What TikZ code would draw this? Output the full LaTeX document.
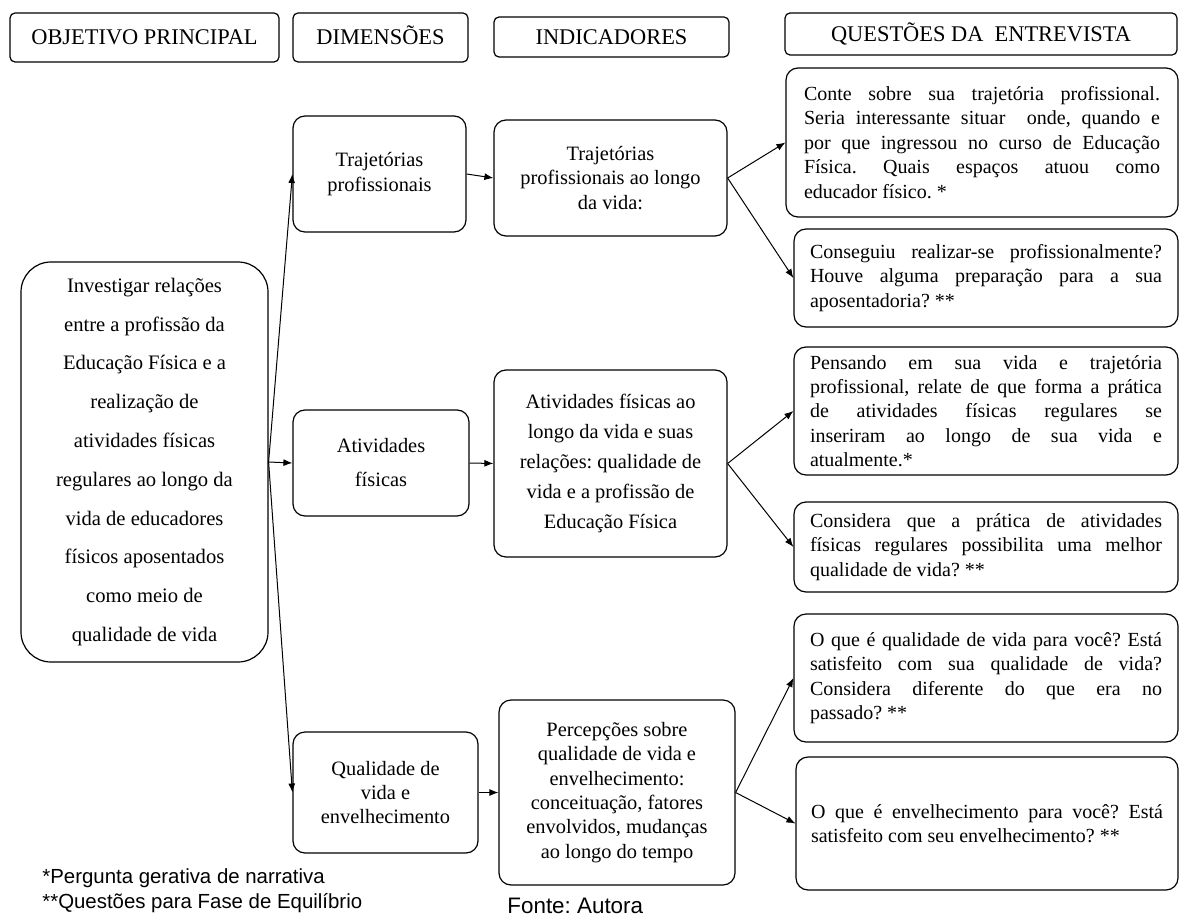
\documentclass[tikz,border=0pt]{standalone}
\usepackage{fontspec}
\setmainfont{Liberation Serif}
\newfontfamily\arialfont{Liberation Sans}
\usetikzlibrary{arrows.meta}
\frenchspacing

\begin{document}
\begin{tikzpicture}[x=0.5pt, y=-0.5pt,
    hdr/.style={draw, rounded corners=2.5pt, line width=0.6pt, inner sep=0pt, text height=7.6pt, text depth=0.4pt, font=\fontsize{11.2}{13}\selectfont},
    bx/.style={draw, rounded corners=6pt, line width=0.6pt, align=center, inner sep=2pt, font=\fontsize{10.2}{12.2}\selectfont},
    qbx/.style={draw, rounded corners=6pt, line width=0.6pt, align=justify, text width=176pt, inner sep=0pt, font=\fontsize{10}{12.2}\selectfont},
    seta/.style={-{Latex[length=4.5pt,width=3.5pt]}, line width=0.5pt},
    nota/.style={anchor=west, inner sep=0pt, font=\arialfont\fontsize{10.2}{12}\selectfont}]

    \useasboundingbox (0,0) rectangle (1181,919);

    % Headers
    \node[hdr, minimum width=134.5pt, minimum height=24.5pt] (hObj) at (144.5,37.5) {OBJETIVO PRINCIPAL};
    \node[hdr, minimum width=87.5pt, minimum height=24.5pt] (hDim) at (380.5,37.5) {DIMENSÕES};
    \node[hdr, minimum width=117.5pt, minimum height=20pt] (hInd) at (611.5,37) {INDICADORES};
    \node[hdr, minimum width=196pt, minimum height=21pt] (hQue) at (981,34) {QUESTÕES DA~ ENTREVISTA};

    % Objective
    \node[bx, rounded corners=15pt, minimum width=123.5pt, minimum height=200pt, font=\fontsize{10.3}{19.4}\selectfont] (obj) at (144.5,462)
        {Investigar relações\\entre a profissão da\\Educação Física e a\\realização de\\atividades físicas\\regulares ao longo da\\vida de educadores\\físicos aposentados\\como meio de\\qualidade de vida};

    % Dimensions
    \node[bx, minimum width=86.5pt, minimum height=58pt] (dTraj) at (379.5,174) {Trajetórias\\profissionais};
    \node[bx, minimum width=88pt, minimum height=53pt, font=\fontsize{10.2}{17}\selectfont] (dAtiv) at (381,463) {Atividades\\físicas};
    \node[bx, minimum width=92.5pt, minimum height=60.5pt] (dQual) at (385.5,792.5) {Qualidade de\\vida e\\envelhecimento};

    % Indicators
    \node[bx, minimum width=116.5pt, minimum height=58pt] (iTraj) at (610.5,178) {Trajetórias\\profissionais ao longo\\da vida:};
    \node[bx, minimum width=116.5pt, minimum height=93.5pt, font=\fontsize{10.2}{15}\selectfont] (iAtiv) at (610.5,463.5)
        {Atividades físicas ao\\longo da vida e suas\\relações: qualidade de\\vida e a profissão de\\Educação Física};
    \node[bx, minimum width=118pt, minimum height=92.5pt] (iQual) at (617,792.5)
        {Percepções sobre\\qualidade de vida e\\envelhecimento:\\conceituação, fatores\\envolvidos, mudanças\\ao longo do tempo};

    % Questions
    \node[qbx, text width=178pt, minimum width=196pt, minimum height=74.5pt] (q1) at (982,142.5)
        {Conte sobre sua trajetória profissional.\linebreak Seria interessante situar~ onde, quando e\linebreak por que ingressou no curso de Educação\linebreak Física. Quais espaços atuou como\linebreak educador físico. *};
    \node[qbx, minimum width=192pt, minimum height=49pt] (q2) at (986,278)
        {Conseguiu realizar-se profissionalmente?\linebreak Houve alguma preparação para a sua\linebreak aposentadoria? **};
    \node[qbx, minimum width=192pt, minimum height=64pt] (q3) at (986,411)
        {Pensando em sua vida e trajetória\linebreak profissional, relate de que forma a prática\linebreak de atividades físicas regulares se\linebreak inseriram ao longo de sua vida e\linebreak atualmente.*};
    \node[qbx, minimum width=192pt, minimum height=45pt] (q4) at (986,547)
        {Considera que a prática de atividades\linebreak físicas regulares possibilita uma melhor\linebreak qualidade de vida? **};
    \node[qbx, minimum width=192pt, minimum height=64pt] (q5) at (986,678)
        {O que é qualidade de vida para você? Está\linebreak satisfeito com sua qualidade de vida?\linebreak Considera diferente do que era no\linebreak passado? **};
    \node[qbx, minimum width=191pt, minimum height=66.5pt] (q6) at (987,823.5)
        {O que é envelhecimento para você? Está\linebreak satisfeito com seu envelhecimento? **};

    % Connectors
    \foreach \d in {dTraj,dAtiv,dQual} \draw[seta] (obj.east) -- (\d.west);
    \draw[seta] (dTraj.east) -- (iTraj.west);
    \draw[seta] (dAtiv.east) -- (iAtiv.west);
    \draw[seta] (dQual.east) -- (iQual.west);
    \foreach \q in {q1,q2} \draw[seta] (iTraj.east) -- (\q.west);
    \foreach \q in {q3,q4} \draw[seta] (iAtiv.east) -- (\q.west);
    \foreach \q in {q5,q6} \draw[seta] (iQual.east) -- (\q.west);

    % Notes
    \node[nota] (n1) at (42,878) {*Pergunta gerativa de narrativa};
    \node[nota] (n2) at (42,903) {**Questões para Fase de Equilíbrio};
    \node[nota, anchor=base west, font=\arialfont\fontsize{11.2}{13}\selectfont] (fonte) at (507,913) {Fonte: Autora};
\end{tikzpicture}
\end{document}
